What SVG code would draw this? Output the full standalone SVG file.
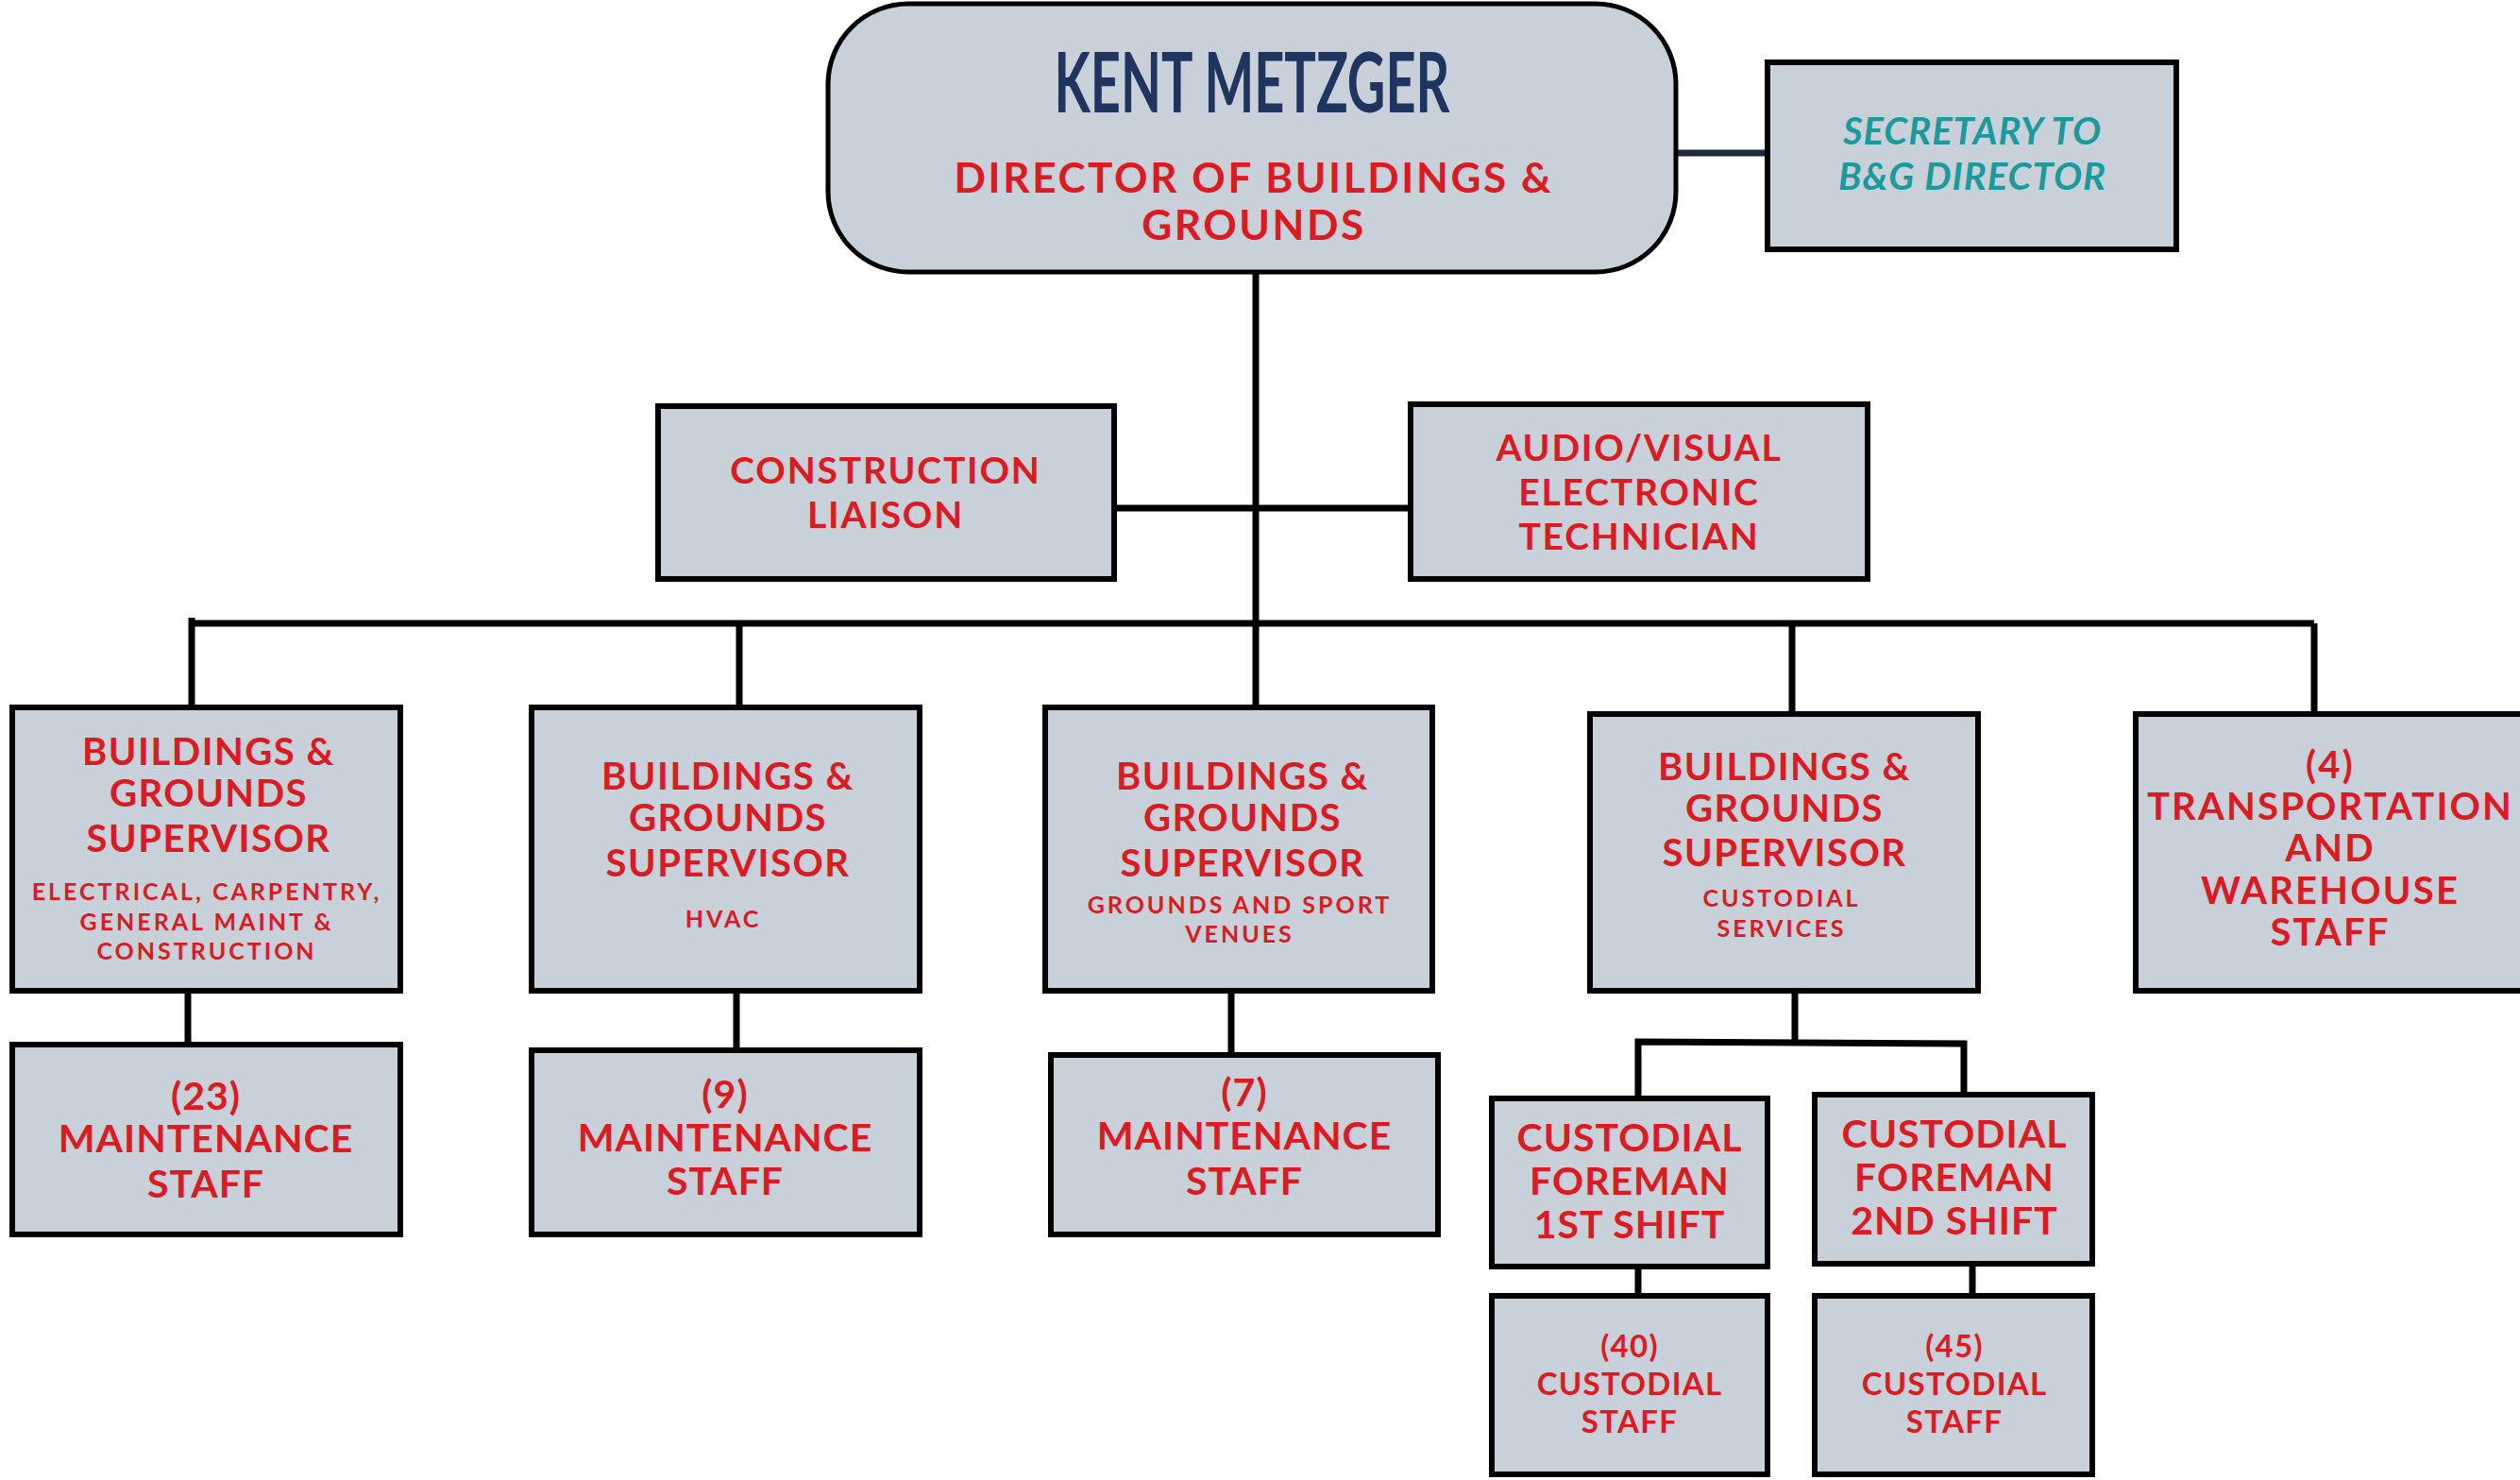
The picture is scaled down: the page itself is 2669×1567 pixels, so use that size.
<svg xmlns="http://www.w3.org/2000/svg" width="2669" height="1567" viewBox="0 0 2669 1567">
<style>
.box{fill:#c8d0d9;stroke:#000;stroke-width:6}
.ln{stroke:#000;stroke-width:7;fill:none}
text{font-family:Lato,"Open Sans","Liberation Sans",sans-serif;font-weight:700;text-anchor:middle;fill:#dc1a22}
.t{font-size:40px;letter-spacing:1.5px}
.t2{font-size:39px;letter-spacing:1.8px}
.s{font-size:25px;letter-spacing:3px}
.m{font-size:41px;letter-spacing:1px}
.c{font-size:33px;letter-spacing:1.3px}
.sec{font-size:40px;font-style:italic;fill:#1a9a9a;letter-spacing:1px}
</style>
<rect width="2669" height="1567" fill="#fff"/>
<g id="connectors">
<line x1="1777" y1="162" x2="1872" y2="162" stroke="#1c2b3e" stroke-width="7"/>
<line class="ln" x1="1330" y1="289" x2="1330" y2="749"/>
<line class="ln" x1="1180" y1="538" x2="1493" y2="538"/>
<line class="ln" x1="203" y1="660" x2="2451" y2="660"/>
<line class="ln" x1="203" y1="654" x2="203" y2="749"/>
<line class="ln" x1="783" y1="660" x2="783" y2="749"/>
<line class="ln" x1="1898" y1="660" x2="1898" y2="756"/>
<line class="ln" x1="2451" y1="660" x2="2451" y2="756"/>
<line class="ln" x1="199" y1="1049" x2="199" y2="1106"/>
<line class="ln" x1="780" y1="1049" x2="780" y2="1112"/>
<line class="ln" x1="1304" y1="1049" x2="1304" y2="1117"/>
<line class="ln" x1="1901" y1="1049" x2="1901" y2="1106"/>
<polyline class="ln" points="1735,1163 1735,1103 2080,1105 2080,1159"/>
<line class="ln" x1="1735" y1="1341" x2="1735" y2="1372"/>
<line class="ln" x1="2089" y1="1338" x2="2089" y2="1372"/>
</g>
<g id="director">
<rect x="877" y="4" width="898" height="284" rx="85" ry="85" fill="#c8d0d9" stroke="#000" stroke-width="5"/>
<text x="1326" y="119" style="font-size:88px;fill:#1f3560" textLength="419" lengthAdjust="spacingAndGlyphs">KENT METZGER</text>
<text style="font-size:44px;letter-spacing:2.6px"><tspan x="1328" y="204">DIRECTOR OF BUILDINGS &amp;</tspan><tspan x="1328" y="254">GROUNDS</tspan></text>
</g>
<g id="secretary">
<rect class="box" x="1872" y="66" width="433" height="198"/>
<text class="sec"><tspan x="2089" y="153">SECRETARY TO</tspan><tspan x="2089" y="201">B&amp;G DIRECTOR</tspan></text>
</g>
<g id="construction">
<rect class="box" x="697" y="430" width="483" height="183"/>
<text class="t2"><tspan x="938" y="512">CONSTRUCTION</tspan><tspan x="938" y="559">LIAISON</tspan></text>
</g>
<g id="av">
<rect class="box" x="1494" y="428" width="484" height="185"/>
<text class="t2"><tspan x="1736" y="488">AUDIO/VISUAL</tspan><tspan x="1736" y="535">ELECTRONIC</tspan><tspan x="1736" y="582">TECHNICIAN</tspan></text>
</g>
<g id="sup1">
<rect class="box" x="13" y="749" width="411" height="300"/>
<text class="t"><tspan x="221" y="810">BUILDINGS &amp;</tspan><tspan x="221" y="854">GROUNDS</tspan><tspan x="221" y="902">SUPERVISOR</tspan></text>
<text class="s"><tspan x="219" y="953">ELECTRICAL, CARPENTRY,</tspan><tspan x="219" y="985">GENERAL MAINT &amp;</tspan><tspan x="219" y="1016">CONSTRUCTION</tspan></text>
</g>
<g id="sup2">
<rect class="box" x="563" y="749" width="411" height="300"/>
<text class="t"><tspan x="771" y="836">BUILDINGS &amp;</tspan><tspan x="771" y="880">GROUNDS</tspan><tspan x="771" y="928">SUPERVISOR</tspan></text>
<text class="s" x="766" y="982">HVAC</text>
</g>
<g id="sup3">
<rect class="box" x="1107" y="749" width="410" height="300"/>
<text class="t"><tspan x="1316" y="836">BUILDINGS &amp;</tspan><tspan x="1316" y="880">GROUNDS</tspan><tspan x="1316" y="928">SUPERVISOR</tspan></text>
<text class="s"><tspan x="1313" y="967">GROUNDS AND SPORT</tspan><tspan x="1313" y="998">VENUES</tspan></text>
</g>
<g id="sup4">
<rect class="box" x="1684" y="756" width="411" height="293"/>
<text class="t"><tspan x="1890" y="826">BUILDINGS &amp;</tspan><tspan x="1890" y="870">GROUNDS</tspan><tspan x="1890" y="917">SUPERVISOR</tspan></text>
<text class="s"><tspan x="1887" y="960">CUSTODIAL</tspan><tspan x="1887" y="992">SERVICES</tspan></text>
</g>
<g id="transport">
<rect class="box" x="2262" y="756" width="420" height="293"/>
<text class="t" style="letter-spacing:2.2px"><tspan x="2468" y="824">(4)</tspan><tspan x="2468" y="868">TRANSPORTATION</tspan><tspan x="2468" y="912">AND</tspan><tspan x="2468" y="957">WAREHOUSE</tspan><tspan x="2468" y="1001">STAFF</tspan></text>
</g>
<g id="maint1">
<rect class="box" x="13" y="1106" width="411" height="201"/>
<text class="m"><tspan x="218" y="1175">(23)</tspan><tspan x="218" y="1220">MAINTENANCE</tspan><tspan x="218" y="1268">STAFF</tspan></text>
</g>
<g id="maint2">
<rect class="box" x="563" y="1112" width="411" height="195"/>
<text class="m"><tspan x="768" y="1173">(9)</tspan><tspan x="768" y="1219">MAINTENANCE</tspan><tspan x="768" y="1265">STAFF</tspan></text>
</g>
<g id="maint3">
<rect class="box" x="1113" y="1117" width="410" height="190"/>
<text class="m"><tspan x="1318" y="1171">(7)</tspan><tspan x="1318" y="1217">MAINTENANCE</tspan><tspan x="1318" y="1265">STAFF</tspan></text>
</g>
<g id="foreman1">
<rect class="box" x="1580" y="1163" width="292" height="178"/>
<text class="m"><tspan x="1726" y="1219">CUSTODIAL</tspan><tspan x="1726" y="1265">FOREMAN</tspan><tspan x="1726" y="1311">1ST SHIFT</tspan></text>
</g>
<g id="foreman2">
<rect class="box" x="1922" y="1159" width="294" height="179"/>
<text class="m"><tspan x="2070" y="1215">CUSTODIAL</tspan><tspan x="2070" y="1261">FOREMAN</tspan><tspan x="2070" y="1307">2ND SHIFT</tspan></text>
</g>
<g id="staff40">
<rect class="box" x="1580" y="1372" width="292" height="189"/>
<text class="c"><tspan x="1726" y="1437">(40)</tspan><tspan x="1726" y="1477">CUSTODIAL</tspan><tspan x="1726" y="1517">STAFF</tspan></text>
</g>
<g id="staff45">
<rect class="box" x="1922" y="1372" width="294" height="189"/>
<text class="c"><tspan x="2070" y="1437">(45)</tspan><tspan x="2070" y="1477">CUSTODIAL</tspan><tspan x="2070" y="1517">STAFF</tspan></text>
</g>
</svg>
